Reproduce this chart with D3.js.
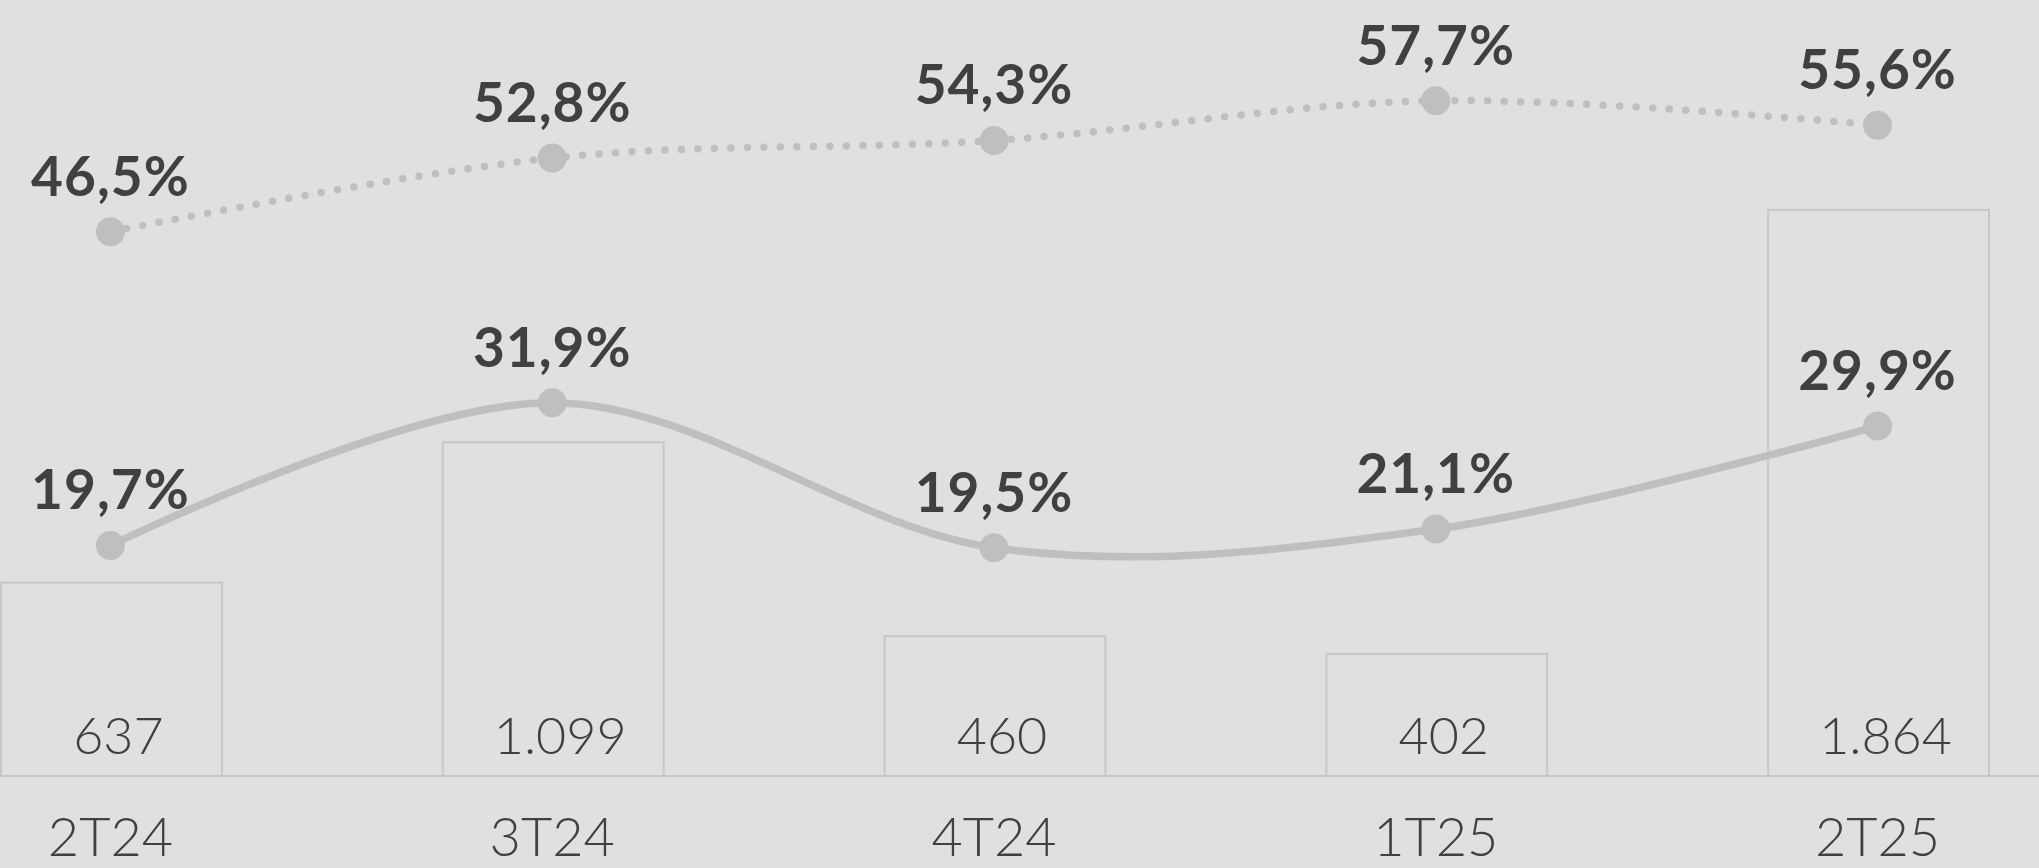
<!DOCTYPE html>
<html lang="pt">
<head>
<meta charset="UTF-8">
<title>Chart</title>
<style>
  body { margin: 0; padding: 0; background: #e0e0e0; overflow: hidden; }
  svg { display: block; }
  .pct { font-family: 'Lato', sans-serif; font-weight: 700; font-size: 55px; letter-spacing: 1px; fill: #404040; }
  .val { font-family: 'Lato', sans-serif; font-weight: 300; font-size: 52px; fill: #404040; }
  .cat { font-family: 'Lato', sans-serif; font-weight: 300; font-size: 54px; fill: #404040; }
</style>
</head>
<body>
<svg width="2039" height="868"></svg>
<script src="https://d3js.org/d3.v7.min.js"></script>
<script>
  // dados
  const categories = ["2T24", "3T24", "4T24", "1T25", "2T25"];
  const barValues = [637, 1099, 460, 402, 1864];
  const barLabels = ["637", "1.099", "460", "402", "1.864"];
  const dottedSeries = [46.5, 52.8, 54.3, 57.7, 55.6];
  const solidSeries = [19.7, 31.9, 19.5, 21.1, 29.9];

  const width = 2039, height = 868;
  const baseY = 776;
  const grey = "#bfbfbf";

  const svg = d3.select("svg");

  const x = d3.scaleBand()
    .domain(categories)
    .range([0, 1988])
    .paddingInner(0.5)
    .paddingOuter(0);

  const yBar = d3.scaleLinear().domain([0, 2555]).range([baseY, 0]);
  const yPct = d3.scaleLinear().domain([0, 66.3]).range([baseY, 0]);

  const cx = d => x(d) + x.bandwidth() / 2;
  const fmtPct = v => v.toFixed(1).replace(".", ",") + "%";

  // barras
  svg.append("g").selectAll("rect")
    .data(categories)
    .join("rect")
    .attr("x", d => x(d) + 1)
    .attr("y", (d, i) => yBar(barValues[i]))
    .attr("width", x.bandwidth())
    .attr("height", (d, i) => baseY - yBar(barValues[i]))
    .attr("fill", "#e0e0e0")
    .attr("stroke", "#c8c8c8")
    .attr("stroke-width", 2);

  // linha base
  svg.append("line")
    .attr("x1", 0).attr("x2", width)
    .attr("y1", baseY).attr("y2", baseY)
    .attr("stroke", "#c8c8c8")
    .attr("stroke-width", 2);

  // valores das barras
  svg.append("g").selectAll("text")
    .data(categories)
    .join("text")
    .attr("class", "val")
    .attr("x", d => cx(d) + 8)
    .attr("y", 754)
    .attr("text-anchor", "middle")
    .text((d, i) => barLabels[i]);

  // eixo x
  const xAxis = svg.append("g")
    .attr("transform", `translate(0,${baseY})`)
    .call(d3.axisBottom(x).tickSize(0).tickPadding(80));
  xAxis.select(".domain").remove();
  xAxis.selectAll("text")
    .attr("class", "cat")
    .attr("dy", 0)
    .attr("font-family", null)
    .attr("font-size", null)
    .attr("fill", null);

  const line = d3.line()
    .x((d, i) => cx(categories[i]))
    .y(d => yPct(d))
    .curve(d3.curveCardinal.tension(0));

  // série pontilhada
  svg.append("path")
    .datum(dottedSeries)
    .attr("d", line)
    .attr("fill", "none")
    .attr("stroke", grey)
    .attr("stroke-width", 7.5)
    .attr("stroke-linecap", "round")
    .attr("stroke-dasharray", "0 16.5");

  // série sólida
  svg.append("path")
    .datum(solidSeries)
    .attr("d", line)
    .attr("fill", "none")
    .attr("stroke", grey)
    .attr("stroke-width", 7.5);

  [dottedSeries, solidSeries].forEach(series => {
    svg.append("g").selectAll("circle")
      .data(series)
      .join("circle")
      .attr("cx", (d, i) => cx(categories[i]))
      .attr("cy", d => yPct(d))
      .attr("r", 14.5)
      .attr("fill", grey);

    svg.append("g").selectAll("text")
      .data(series)
      .join("text")
      .attr("class", "pct")
      .attr("x", (d, i) => cx(categories[i]))
      .attr("y", d => yPct(d) - 36)
      .attr("text-anchor", "middle")
      .text(fmtPct);
  });
</script>
</body>
</html>
